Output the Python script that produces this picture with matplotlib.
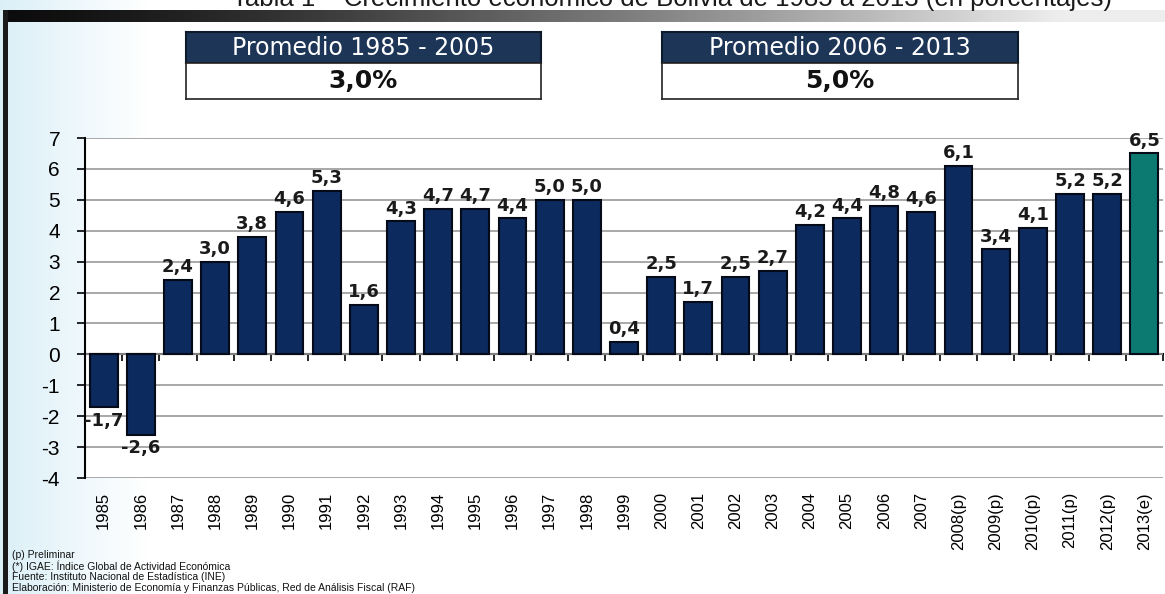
import numpy as np
import matplotlib.pyplot as plt
from matplotlib.patches import Rectangle

# data
years = ['1985', '1986', '1987', '1988', '1989', '1990', '1991', '1992', '1993',
         '1994', '1995', '1996', '1997', '1998', '1999', '2000', '2001', '2002',
         '2003', '2004', '2005', '2006', '2007', '2008(p)', '2009(p)', '2010(p)',
         '2011(p)', '2012(p)', '2013(e)']
growth = [-1.7, -2.6, 2.4, 3.0, 3.8, 4.6, 5.3, 1.6, 4.3, 4.7, 4.7, 4.4, 5.0, 5.0,
          0.4, 2.5, 1.7, 2.5, 2.7, 4.2, 4.4, 4.8, 4.6, 6.1, 3.4, 4.1, 5.2, 5.2, 6.5]
box_titles = ['Promedio 1985 - 2005', 'Promedio 2006 - 2013']
box_values = ['3,0%', '5,0%']
notes = ['(p) Preliminar',
         '(*) IGAE: Índice Global de Actividad Económica',
         'Fuente: Instituto Nacional de Estadística (INE)',
         'Elaboración: Ministerio de Economía y Finanzas Públicas, Red de Análisis Fiscal (RAF)']

plt.rcParams['font.family'] = ['Liberation Sans', 'DejaVu Sans']
plt.rcParams['axes.unicode_minus'] = False

W, H = 1165, 594
fig = plt.figure(figsize=(W / 100, H / 100), dpi=100)
fig.patch.set_facecolor('white')


def px(x0, y0, x1, y1):
    # pixel box -> figure fraction rect
    return [x0 / W, 1 - y1 / H, (x1 - x0) / W, (y1 - y0) / H]


# background: light blue fade on the left
bg = fig.add_axes([0, 0, 1, 1], zorder=-10)
bg.set_axis_off()
grad = np.linspace(0, 1, 300)
fade = np.clip(grad * 8, 0, 1)
img = np.ones((2, 300, 3))
for k, c in enumerate((0.86, 0.94, 0.97)):
    img[:, :, k] = c + (1 - c) * fade
bg.imshow(img, extent=[0, 1, 0, 1], aspect='auto')

# top dark band fading right
band = np.linspace(0, 1, 400)
bimg = np.zeros((1, 400, 3))
for k in range(3):
    bimg[0, :, k] = 0.05 + 0.88 * np.clip(band * 1.1, 0, 1) ** 1.3
bg.imshow(bimg, extent=[8 / W, 1, 1 - 22 / H, 1 - 10 / H], aspect='auto')
bg.add_patch(Rectangle((3 / W, 0), 5 / W, 1 - 10 / H, color='#1a1a1a', lw=0))
bg.set_xlim(0, 1)
bg.set_ylim(0, 1)

# title, cut off at the top edge as in the source image
fig.text(0.577, 1 - 6 / H, 'Tabla 1 – Crecimiento económico de Bolivia de 1985 a 2013 (en porcentajes)',
         ha='center', va='baseline', fontsize=18.5, color='#1a1a1a')

# summary boxes
for (x0, x1), title, val in zip([(186, 541), (662, 1018)], box_titles, box_values):
    hax = fig.add_axes(px(x0, 32, x1, 63))
    hax.set_facecolor('#1d3658')
    hax.set_xticks([])
    hax.set_yticks([])
    for s in hax.spines.values():
        s.set_color('#0d1a2c')
        s.set_linewidth(1.5)
    hax.text(0.5, 0.47, title, ha='center', va='center', color='white',
             fontsize=17, family='DejaVu Sans', transform=hax.transAxes)
    vax = fig.add_axes(px(x0, 63, x1, 99))
    vax.set_facecolor('white')
    vax.set_xticks([])
    vax.set_yticks([])
    for s in vax.spines.values():
        s.set_color('#222222')
        s.set_linewidth(1.2)
    vax.text(0.5, 0.5, val, ha='center', va='center', color='#111111',
             fontsize=18, fontweight='bold', family='DejaVu Sans',
             transform=vax.transAxes)

# main chart
ax = fig.add_axes(px(85, 138, 1163, 478))
ax.set_facecolor('white')
x = np.arange(len(years))
colors = ['#0c2a5e'] * (len(years) - 1) + ['#0d7a72']
ax.bar(x, growth, width=0.75, color=colors, edgecolor='#050a18', linewidth=1.5, zorder=3)
ax.set_xlim(-0.5, len(years) - 0.5)
ax.set_ylim(-4, 7)
ax.set_yticks(range(-4, 8))
ax.yaxis.grid(True, color='#9a9a9a', linewidth=1.2, zorder=0)
ax.set_axisbelow(True)
for s in ('top', 'right', 'bottom'):
    ax.spines[s].set_visible(False)
ax.spines['left'].set_linewidth(1.5)
ax.tick_params(axis='y', labelsize=15, length=6, width=1.2, pad=12)
ax.set_xticks(x)
ax.set_xticklabels(years, rotation=90, fontsize=12)
ax.tick_params(axis='x', length=0, pad=10)

# category axis at zero with boundary ticks
sec = ax.secondary_xaxis(4 / 11)
sec.set_xticks(np.arange(len(years) + 1) - 0.5)
sec.set_xticklabels([])
sec.tick_params(length=5, width=1.2, direction='out', color='black')
sec.spines['bottom'].set_linewidth(1.5)

for xi, v in zip(x, growth):
    lbl = f'{v:.1f}'.replace('.', ',')
    if v >= 0:
        ax.text(xi, v + 0.12, lbl, ha='center', va='bottom', fontsize=13,
                fontweight='bold', family='DejaVu Sans', color='#1a1a1a', zorder=4)
    else:
        ax.text(xi, v - 0.15, lbl, ha='center', va='top', fontsize=13,
                fontweight='bold', family='DejaVu Sans', color='#1a1a1a', zorder=4)

# footnotes
for i, t in enumerate(notes):
    fig.text(12 / W, 1 - (555 + i * 11) / H, t, fontsize=7.5, va='center',
             color='#111111')

fig.savefig('out.png', dpi=100)
